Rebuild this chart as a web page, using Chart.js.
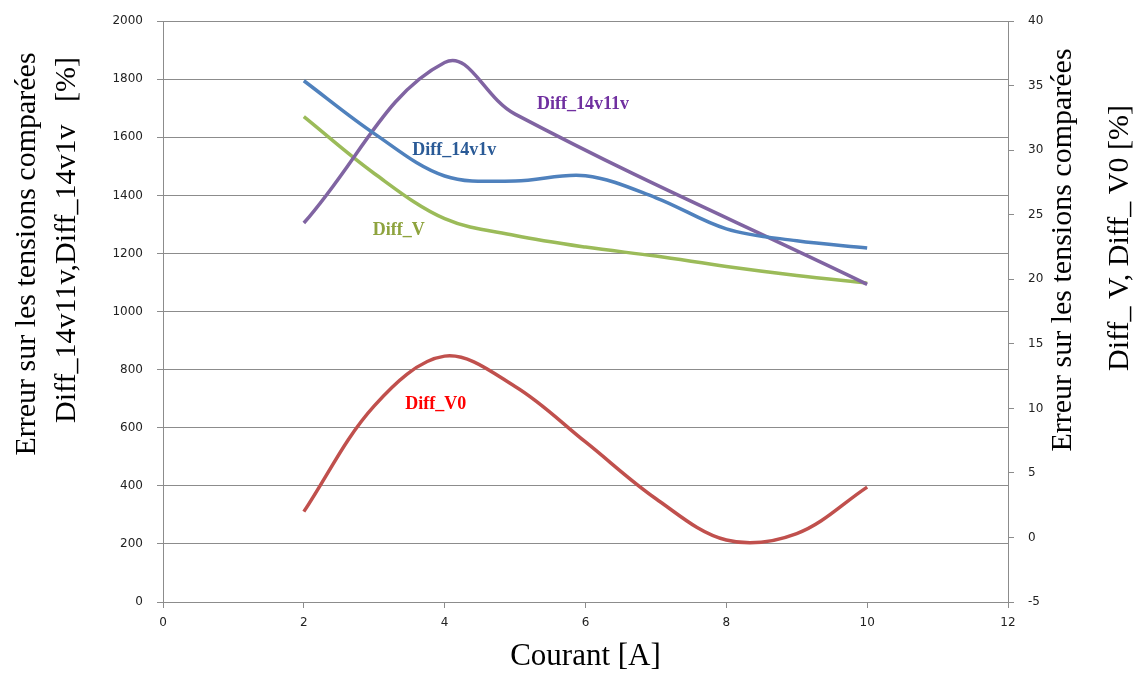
<!DOCTYPE html>
<html>
<head>
<meta charset="utf-8">
<script src="https://cdn.jsdelivr.net/npm/chart.js@4/dist/chart.umd.min.js"></script>
<style>
  html, body { margin: 0; padding: 0; background: #fff; }
  #wrap { width: 1141px; height: 677px; }
</style>
</head>
<body>
<div id="wrap"><canvas id="chart" width="1141" height="677"></canvas></div>
<script>
(function () {
  'use strict';

  // ── values ─────────────────────────────────────────────────────────────────
  var currents = [2, 3, 4, 5, 6, 7, 8, 9, 10];
  // left axis series
  var diff14v1v   = [1795, 1613, 1467, 1450, 1468, 1392, 1285, 1244, 1219];
  var diff14v11vX = [2, 4, 5, 10];
  var diff14v11v  = [1305, 1858, 1680, 1094];
  // right axis series
  var diffV  = [32.6, 28.2, 24.7, 23.4, 22.5, 21.8, 21.0, 20.3, 19.7];
  var diffV0 = [2.0, 10.2, 14.05, 11.7, 7.4, 3.0, -0.2, 0.3, 3.9];

  var xTicks = [0, 2, 4, 6, 8, 10, 12];
  var leftTitle  = ['Erreur sur les tensions comparées', 'Diff_14v11v,Diff_14v1v   [%]'];
  var rightTitle = ['Erreur sur les tensions comparées', 'Diff_ V, Diff_ V0 [%]'];

  // in-plot labels: text, x, y, axis
  var seriesLabels = [
    { text: 'Diff_14v11v', x: 5.31, y: 1712, axis: 'y',  color: '#7030a0' },
    { text: 'Diff_14v1v',  x: 3.54, y: 1555, axis: 'y',  color: '#2a5a96' },
    { text: 'Diff_V',      x: 2.98, y: 23.8, axis: 'y2', color: '#8ea33e' },
    { text: 'Diff_V0',     x: 3.44, y: 10.3, axis: 'y2', color: '#ff0000' }
  ];

  function pts(xs, ys) {
    return xs.map(function (x, i) { return { x: x, y: ys[i] }; });
  }

  function line(label, xs, ys, color, axis, tension) {
    return {
      label: label,
      data: pts(xs, ys),
      yAxisID: axis,
      borderColor: color,
      borderWidth: 3.5,
      pointRadius: 0,
      tension: tension,
      fill: false
    };
  }

  var tickFont = { family: 'DejaVu Sans', size: 12 };
  var gridGrey = '#8c8c8c';
  var plain = function (v) { return String(v); };

  var labelsPlugin = {
    id: 'labels',
    afterDatasetsDraw: function (chart) {
      var ctx = chart.ctx;
      ctx.save();
      ctx.font = 'bold 18px "Liberation Serif"';
      ctx.textAlign = 'left';
      ctx.textBaseline = 'middle';
      seriesLabels.forEach(function (l) {
        ctx.fillStyle = l.color;
        ctx.fillText(l.text,
          chart.scales.x.getPixelForValue(l.x),
          chart.scales[l.axis].getPixelForValue(l.y));
      });
      ctx.restore();
    },
    afterDraw: function (chart) {
      var ctx = chart.ctx;
      function vtext(txt, cx, cy) {
        ctx.save();
        ctx.translate(cx, cy);
        ctx.rotate(-Math.PI / 2);
        ctx.fillText(txt, 0, 0);
        ctx.restore();
      }
      ctx.save();
      ctx.font = '30px "Liberation Serif"';
      ctx.fillStyle = '#000';
      ctx.textAlign = 'center';
      ctx.textBaseline = 'middle';
      vtext(leftTitle[0], 27, 254);
      vtext(leftTitle[1], 67, 240);
      vtext(rightTitle[0], 1063, 250);
      vtext(rightTitle[1], 1120, 238);
      ctx.restore();
    }
  };

  new Chart(document.getElementById('chart'), {
    type: 'line',
    data: {
      datasets: [
        line('Diff_14v1v', currents, diff14v1v, '#4f81bd', 'y', 0.35),
        line('Diff_14v11v', diff14v11vX, diff14v11v, '#8064a2', 'y', 0.4),
        line('Diff_V', currents, diffV, '#9bbb59', 'y2', 0.35),
        line('Diff_V0', currents, diffV0, '#c0504d', 'y2', 0.35)
      ]
    },
    options: {
      responsive: false,
      animation: false,
      layout: { padding: { top: 18, left: 0, right: 0, bottom: 0 } },
      plugins: { legend: { display: false }, tooltip: { enabled: false } },
      scales: {
        x: {
          type: 'linear',
          min: 0,
          max: 12,
          afterBuildTicks: function (s) {
            s.ticks = xTicks.map(function (v) { return { value: v }; });
          },
          ticks: { color: '#222', font: tickFont, padding: 8, maxRotation: 0, callback: plain },
          grid: { drawOnChartArea: false, tickLength: 6, color: gridGrey },
          border: { color: gridGrey },
          title: {
            display: true,
            text: 'Courant [A]',
            color: '#000',
            font: { family: 'Liberation Serif', size: 31 },
            padding: { top: 0, bottom: 2 }
          },
          afterFit: function (s) { s.height = 75; }
        },
        y: {
          position: 'left',
          min: 0,
          max: 2000,
          ticks: { stepSize: 200, color: '#222', font: tickFont, padding: 14, callback: plain },
          grid: { color: gridGrey, tickLength: 6 },
          border: { color: gridGrey },
          afterFit: function (s) { s.width = 163; }
        },
        y2: {
          position: 'right',
          min: -5,
          max: 40,
          ticks: { stepSize: 5, color: '#222', font: tickFont, padding: 14, callback: plain },
          grid: { drawOnChartArea: false, color: gridGrey, tickLength: 6 },
          border: { color: gridGrey },
          afterFit: function (s) { s.width = 133; }
        }
      }
    },
    plugins: [labelsPlugin]
  });
}());
</script>
</body>
</html>
